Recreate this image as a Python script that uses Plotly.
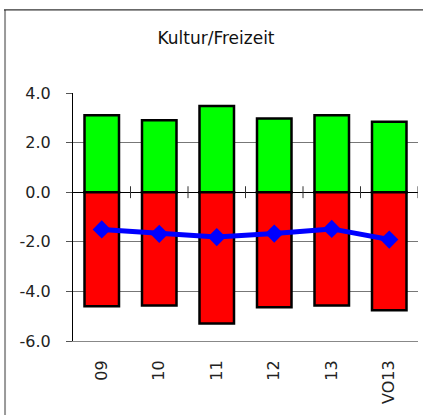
import plotly.graph_objects as go

categories = ["09", "10", "11", "12", "13", "VO13"]
positive = [3.10, 2.90, 3.48, 2.97, 3.10, 2.84]
negative = [-4.60, -4.57, -5.29, -4.64, -4.57, -4.76]
balance = [-1.50, -1.68, -1.81, -1.67, -1.48, -1.91]
y_ticks = [-6, -4, -2, 0, 2, 4]
y_tick_labels = [f"{v:.1f}" for v in y_ticks]
title_text = "Kultur/Freizeit"

FONT = "DejaVu Sans"

fig = go.Figure()
fig.add_trace(go.Bar(x=categories, y=positive, marker=dict(color="#00FF00", line=dict(color="black", width=2.5)),
                     width=0.6, showlegend=False))
fig.add_trace(go.Bar(x=categories, y=negative, marker=dict(color="#FF0000", line=dict(color="black", width=2.5)),
                     width=0.6, showlegend=False))
fig.add_trace(go.Scatter(x=categories, y=balance, mode="lines+markers",
                         line=dict(color="#0000FF", width=5),
                         marker=dict(symbol="diamond", size=14, color="#0000FF"),
                         showlegend=False))

# small crossing tick marks on the zero line between categories
shapes = []
for i in range(len(categories)):
    shapes.append(dict(type="line", xref="x", yref="y", x0=i + 0.5, x1=i + 0.5, y0=-0.24, y1=0.24,
                       line=dict(color="#333333", width=1)))
# outer chart border (left gray, top black)
shapes.append(dict(type="line", xref="paper", yref="paper", x0=-0.197, x1=-0.197, y0=-0.4, y1=1.335,
                   line=dict(color="#999999", width=2)))
shapes.append(dict(type="line", xref="paper", yref="paper", x0=-0.2, x1=1.03, y0=1.335, y1=1.335,
                   line=dict(color="black", width=1)))

fig.update_layout(
    width=423, height=415,
    margin=dict(l=73, r=5, t=93, b=74),
    paper_bgcolor="white", plot_bgcolor="white",
    barmode="relative",
    font=dict(family=FONT, size=16, color="#222222"),
    title=dict(text=title_text, x=216 / 423, xanchor="center", xref="container",
               y=1 - 38 / 415, yanchor="middle", yref="container",
               font=dict(family=FONT, size=17, color="#111111")),
    shapes=shapes,
)
fig.update_xaxes(type="category", range=[-0.5, 5.5], showgrid=False,
                 showline=True, linecolor="#888888", linewidth=1,
                 ticks="", tickangle=-90, ticklabelstandoff=12,
                 tickfont=dict(family=FONT, size=16, color="#222222"))
fig.update_yaxes(range=[-6, 4], tickvals=y_ticks, ticktext=y_tick_labels,
                 showgrid=True, gridcolor="#777777", gridwidth=1,
                 zeroline=True, zerolinecolor="black", zerolinewidth=1,
                 showline=True, linecolor="black", linewidth=1,
                 ticks="outside", ticklen=6, tickcolor="#555555",
                 ticklabelstandoff=12,
                 tickfont=dict(family=FONT, size=16, color="#222222"))

fig.write_html("out.html", config={"displayModeBar": False},
               post_script="document.body.style.margin='0';document.body.style.overflow='hidden';")
